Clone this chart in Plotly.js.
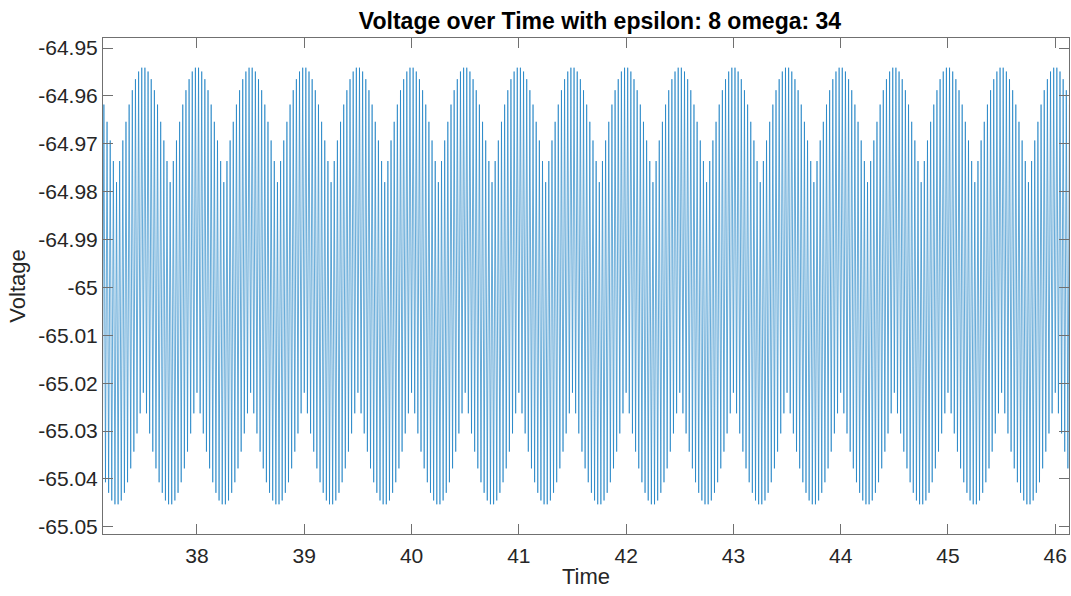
<!DOCTYPE html>
<html>
<head>
<meta charset="utf-8">
<script src="https://cdn.plot.ly/plotly-3.0.1.min.js"></script>
<style>
  html, body { margin: 0; padding: 0; background: #ffffff; }
  #chart { width: 1071px; height: 596px; }
</style>
</head>
<body>
<div id="chart"></div>
<script>
// ---- data ----
// time between successive oscillation spikes (34 spikes per time unit)
const sampleStep = 1 / 34;
// start time of each envelope lobe (top envelope node), one lobe every 0.5 time units
const lobeStarts = [36.75, 37.25, 37.75, 38.25, 38.75, 39.25, 39.75, 40.25, 40.75,
                    41.25, 41.75, 42.25, 42.75, 43.25, 43.75, 44.25, 44.75, 45.25, 45.75];
// voltage of the upper spikes across one lobe
const lobeTop = [-64.9780, -64.9736, -64.9693, -64.9654, -64.9618, -64.9588, -64.9565, -64.9549, -64.9541,
                 -64.9541, -64.9549, -64.9565, -64.9588, -64.9618, -64.9654, -64.9693, -64.9736];
// voltage of the lower spikes across one lobe (half a step after each upper spike)
const lobeBottom = [-65.0453, -65.0445, -65.0429, -65.0407, -65.0378, -65.0343, -65.0305, -65.0263, -65.0220,
                    -65.0263, -65.0305, -65.0343, -65.0378, -65.0407, -65.0429, -65.0445, -65.0453];
// axis ticks
const xTickVals = [38, 39, 40, 41, 42, 43, 44, 45, 46];
const xTickText = ['38', '39', '40', '41', '42', '43', '44', '45', '46'];
const yTickVals = [-64.95, -64.96, -64.97, -64.98, -64.99, -65, -65.01, -65.02, -65.03, -65.04, -65.05];
const yTickText = ['-64.95', '-64.96', '-64.97', '-64.98', '-64.99', '-65', '-65.01', '-65.02', '-65.03', '-65.04', '-65.05'];

// ---- build the trace ----
const time = [];
const voltage = [];
lobeStarts.forEach(function (t0) {
  for (let j = 0; j < lobeTop.length; j++) {
    time.push(t0 + j * sampleStep);
    voltage.push(lobeTop[j]);
    time.push(t0 + (j + 0.5) * sampleStep);
    voltage.push(lobeBottom[j]);
  }
});

const axisColor = '#707070';
const textColor = '#262626';
const fontFamily = 'Liberation Sans, Arial, Helvetica, sans-serif';

const trace = {
  type: 'scatter',
  mode: 'lines',
  x: time,
  y: voltage,
  line: { color: '#0072BD', width: 0.6, simplify: false },
  hoverinfo: 'x+y'
};

const layout = {
  width: 1071,
  height: 596,
  margin: { l: 103, r: 2, t: 38, b: 62, pad: 0 },
  paper_bgcolor: '#ffffff',
  plot_bgcolor: '#ffffff',
  showlegend: false,
  font: { family: fontFamily, color: textColor, size: 21 },
  title: {
    text: '<b>Voltage over Time with epsilon: 8 omega: 34</b>',
    font: { family: fontFamily, size: 23, color: '#000000' },
    x: 0.5145, xref: 'paper', xanchor: 'center',
    y: 1, yref: 'paper', yanchor: 'bottom', pad: { b: 9 }
  },
  xaxis: {
    range: [37.124, 46.128],
    tickmode: 'array',
    tickvals: xTickVals,
    ticktext: xTickText,
    ticks: 'inside',
    ticklen: 10,
    tickwidth: 1,
    tickcolor: axisColor,
    showline: true,
    linecolor: axisColor,
    linewidth: 1,
    mirror: 'ticks',
    showgrid: false,
    zeroline: false,
    tickfont: { size: 21, color: textColor },
    ticklabelstandoff: 3,
    title: { text: 'Time', font: { size: 22, color: textColor }, standoff: 2 }
  },
  yaxis: {
    range: [-65.0515, -64.9479],
    tickmode: 'array',
    tickvals: yTickVals,
    ticktext: yTickText,
    ticks: 'inside',
    ticklen: 10,
    tickwidth: 1,
    tickcolor: axisColor,
    showline: true,
    linecolor: axisColor,
    linewidth: 1,
    mirror: 'ticks',
    showgrid: false,
    zeroline: false,
    tickfont: { size: 21, color: textColor },
    ticklabelstandoff: 0,
    title: { text: 'Voltage', font: { size: 22, color: textColor }, standoff: 6 }
  }
};

Plotly.newPlot('chart', [trace], layout, { displayModeBar: false, staticPlot: true });
</script>
</body>
</html>
